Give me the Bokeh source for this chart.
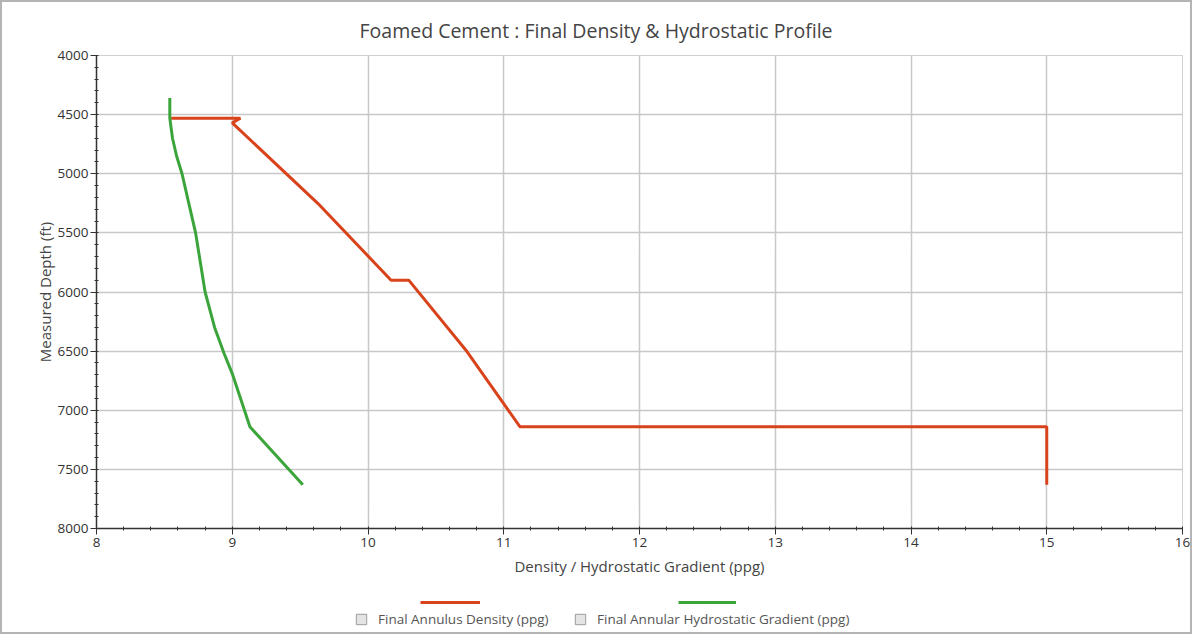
from bokeh.plotting import figure
from bokeh.layouts import column
from bokeh.models import Range1d, SingleIntervalTicker, Legend, LegendItem
from bokeh.embed import file_html
from bokeh.resources import INLINE

# Data
density_ppg = [8.55, 9.06, 9.00, 9.63, 10.17, 10.30, 10.72, 11.12, 15.00, 15.00]
density_depth = [4530, 4530, 4570, 5250, 5900, 5900, 6490, 7140, 7140, 7630]

hydro_ppg = [8.54, 8.54, 8.56, 8.59, 8.63, 8.68, 8.73, 8.80, 8.87, 8.94, 9.00, 9.09, 9.13, 9.52]
hydro_depth = [4360, 4530, 4700, 4850, 5000, 5250, 5500, 6000, 6300, 6520, 6690, 7000, 7140, 7630]

series_labels = ["Final Annulus Density (ppg)", "Final Annular Hydrostatic Gradient (ppg)"]
series_colors = ["#d8431b", "#3ba53b"]

FONT = "Open Sans"
TXT = "#444444"
NAN = float("nan")

p = figure(width=1188, height=582, output_backend="svg", toolbar_location=None,
           x_range=Range1d(8, 16), y_range=Range1d(8000, 4000),
           title="Foamed Cement : Final Density & Hydrostatic Profile",
           min_border_left=94, min_border_right=8, min_border_top=52, min_border_bottom=56)

p.title.align = "left"
p.title.text_font = FONT
p.title.text_font_size = "19.5px"
p.title.text_font_style = "normal"
p.title.text_color = TXT
p.title.offset = 263
p.title.standoff = 24

p.outline_line_color = "#d0d0d0"
p.background_fill_color = "white"
p.border_fill_color = "white"

p.xaxis.ticker = SingleIntervalTicker(interval=1, num_minor_ticks=5)
p.yaxis.ticker = SingleIntervalTicker(interval=500, num_minor_ticks=5)
for ax in (p.xaxis[0], p.yaxis[0]):
    ax.axis_line_color = "#333333"
    ax.axis_line_width = 1.5
    ax.major_tick_line_color = "#333333"
    ax.minor_tick_line_color = "#333333"
    ax.major_tick_out = 6
    ax.major_tick_in = 0
    ax.minor_tick_out = 2
    ax.minor_tick_in = 2
    ax.major_label_text_font = FONT
    ax.major_label_text_font_size = "13.5px"
    ax.major_label_text_color = "#333333"
    ax.axis_label_text_font = FONT
    ax.axis_label_text_font_size = "15px"
    ax.axis_label_text_font_style = "normal"
    ax.axis_label_text_color = TXT

p.xaxis.axis_label = "Density / Hydrostatic Gradient (ppg)"
p.yaxis.axis_label = "Measured Depth (ft)"
p.xaxis.axis_label_standoff = 6
p.yaxis.axis_label_standoff = 0
p.yaxis.major_label_standoff = 2
p.xaxis.major_label_standoff = 3

p.xgrid.grid_line_color = "#c8c8c8"
p.ygrid.grid_line_color = "#c8c8c8"
p.xgrid.grid_line_width = 1.5
p.ygrid.grid_line_width = 1.5

r_density = p.line(density_ppg, density_depth, line_color=series_colors[0], line_width=3,
                   legend_label=series_labels[0])
r_hydro = p.line(hydro_ppg, hydro_depth, line_color=series_colors[1], line_width=3,
                 legend_label=series_labels[1])
p.legend.visible = False  # the visible legend is drawn in the strip below

# Legend strip below the chart (line sample above a checkbox and its label)
leg = figure(width=1188, height=48, output_backend="svg", toolbar_location=None,
             x_range=Range1d(0, 1), y_range=Range1d(0, 1),
             x_axis_type=None, y_axis_type=None, min_border=0)
leg.outline_line_color = None
leg.grid.visible = False
leg.background_fill_color = "white"
leg.border_fill_color = "white"

# legend proxies: one NaN point each, so nothing is drawn in the strip itself
s_red = leg.line(x=[NAN], y=[NAN], line_color=series_colors[0], line_width=3)
s_green = leg.line(x=[NAN], y=[NAN], line_color=series_colors[1], line_width=3)
s_box = leg.scatter(x=[NAN], y=[NAN], marker="square", fill_color="#e4e4e4",
                    line_color="#9c9c9c", line_width=1)


def make_legend(label, renderer, loc, gw, gh, fs="13.5px", standoff=1):
    lg = Legend(items=[LegendItem(label=label, renderers=[renderer])],
                location=loc, orientation="horizontal",
                label_text_font=FONT, label_text_font_size=fs, label_text_color="#555555",
                glyph_width=gw, glyph_height=gh, label_height=gh, label_standoff=standoff,
                border_line_color=None, background_fill_alpha=0, padding=0, margin=0)
    leg.add_layout(lg, "center")


make_legend(" ", s_red, (324, 23), 60, 14, fs="2px", standoff=0)
make_legend(" ", s_green, (582, 23), 58, 14, fs="2px", standoff=0)
make_legend(series_labels[0], s_box, (249, 0), 32, 26)
make_legend(series_labels[1], s_box, (468, 0), 32, 26)

layout = column(p, leg, spacing=0, styles={"border": "2px solid #b4b4b4"})

open("out.html", "w").write(file_html(layout, INLINE))
